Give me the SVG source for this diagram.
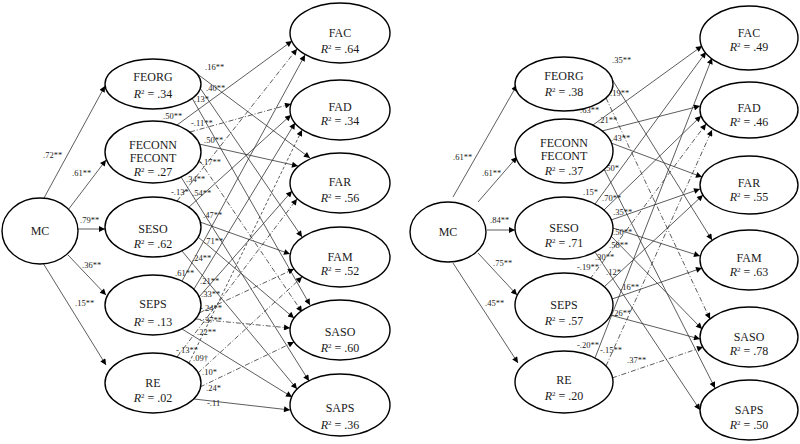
<svg xmlns="http://www.w3.org/2000/svg" width="800" height="444" viewBox="0 0 800 444">
<style>
.n ellipse{fill:#fff;stroke:#000;stroke-width:1.4}
.n text{font-family:"Liberation Serif","Times New Roman",serif;font-size:12px;fill:#1a1a1a;text-anchor:middle}
.n .r{font-style:italic}
.e line{stroke:#333;stroke-width:0.8;fill:none;marker-end:url(#ah)}
.e .dd{stroke-dasharray:5,2,1,2}
.e .ds{stroke-dasharray:3,2}
.lb text{font-family:"Liberation Serif","Times New Roman",serif;font-size:8.5px;fill:#222}
</style>
<defs>
<marker id="ah" viewBox="0 0 10 10" refX="10" refY="5" markerWidth="8" markerHeight="6" markerUnits="userSpaceOnUse" orient="auto"><path d="M0,0 L10,5 L0,10 z" fill="#000"/></marker>
</defs>
<rect width="800" height="444" fill="#fff"/>

<g id="connectors" class="e">
<!-- left panel -->
<line x1="44" y1="198" x2="105" y2="86"/>
<line x1="68" y1="210" x2="106" y2="160"/>
<line x1="78" y1="229" x2="105" y2="229"/>
<line x1="68" y1="255" x2="106" y2="295"/>
<line x1="43" y1="263" x2="106" y2="365"/>
<line x1="196" y1="73" x2="310" y2="158"/>
<line x1="200" y1="88" x2="302" y2="237"/>
<line x1="192" y1="98" x2="310" y2="305"/>
<line x1="177" y1="125" x2="292" y2="41"/>
<line class="dd" x1="190" y1="132" x2="291" y2="104"/>
<line x1="199" y1="144" x2="298" y2="166"/>
<line class="dd" x1="199" y1="160" x2="302" y2="312"/>
<line x1="181" y1="177" x2="309" y2="381"/>
<line class="dd" x1="177" y1="201" x2="297" y2="49"/>
<line x1="189" y1="207" x2="291" y2="115"/>
<line x1="200" y1="222" x2="290" y2="254"/>
<line x1="198" y1="237" x2="294" y2="318"/>
<line x1="182" y1="251" x2="297" y2="389"/>
<line x1="182" y1="281" x2="305" y2="55"/>
<line x1="194" y1="289" x2="295" y2="123"/>
<line x1="199" y1="297" x2="292" y2="191"/>
<line class="dd" x1="199" y1="313" x2="294" y2="269"/>
<line class="dd" x1="196" y1="319" x2="290" y2="328"/>
<line x1="182" y1="329" x2="292" y2="397"/>
<line class="dd" x1="177" y1="357" x2="297" y2="199"/>
<line class="ds" x1="189" y1="363" x2="302" y2="130"/>
<line class="dd" x1="198" y1="373" x2="302" y2="277"/>
<line class="dd" x1="200" y1="387" x2="294" y2="342"/>
<line x1="194" y1="399" x2="290" y2="410"/>
<!-- right panel -->
<line x1="453" y1="197" x2="517" y2="85"/>
<line x1="478" y1="202" x2="517" y2="157"/>
<line x1="487" y1="230" x2="515" y2="230"/>
<line x1="478" y1="253" x2="517" y2="295"/>
<line x1="453" y1="263" x2="518" y2="363"/>
<line x1="610" y1="76" x2="712" y2="240"/>
<line class="dd" x1="606" y1="98" x2="710" y2="319"/>
<line x1="593" y1="125" x2="702" y2="46"/>
<line x1="602" y1="131" x2="700" y2="106"/>
<line x1="611" y1="143" x2="702" y2="177"/>
<line x1="604" y1="169" x2="715" y2="388"/>
<line x1="595" y1="204" x2="706" y2="52"/>
<line x1="604" y1="210" x2="701" y2="116"/>
<line x1="611" y1="220" x2="700" y2="189"/>
<line x1="613" y1="228" x2="700" y2="256"/>
<line x1="611" y1="236" x2="702" y2="329"/>
<line x1="595" y1="252" x2="700" y2="410"/>
<line class="dd" x1="590" y1="279" x2="706" y2="124"/>
<line x1="604" y1="287" x2="703" y2="195"/>
<line x1="612" y1="299" x2="702" y2="268"/>
<line x1="610" y1="315" x2="700" y2="339"/>
<line x1="595" y1="358" x2="712" y2="58"/>
<line class="dd" x1="606" y1="366" x2="712" y2="130"/>
<line class="dd" x1="612" y1="378" x2="703" y2="347"/>
</g>

<g id="labels" class="lb">
<text x="43" y="158">.72**</text>
<text x="72" y="176">.61**</text>
<text x="80" y="223">.79**</text>
<text x="82" y="268">.36**</text>
<text x="75" y="306">.15**</text>
<text x="205" y="70">.16**</text>
<text x="206" y="91">.40**</text>
<text x="194" y="102">.13*</text>
<text x="163" y="119">.50**</text>
<text x="191" y="126">-.11**</text>
<text x="204" y="143">.50**</text>
<text x="199" y="165">-.17**</text>
<text x="186" y="182">.34**</text>
<text x="171" y="195">-.13*</text>
<text x="192" y="196">.54**</text>
<text x="203" y="218">.47**</text>
<text x="204" y="244">.71**</text>
<text x="192" y="261">.24**</text>
<text x="175" y="276">.61**</text>
<text x="200" y="284">.21**</text>
<text x="201" y="297">.33**</text>
<text x="200" y="311">-.24**</text>
<text x="200" y="323">-.37**</text>
<text x="197" y="335">.22**</text>
<text x="176" y="353">-.13**</text>
<text x="193" y="361">.09†</text>
<text x="202" y="375">.10*</text>
<text x="206" y="391">.24*</text>
<text x="207" y="406">-.11</text>
<text x="453" y="160">.61**</text>
<text x="482" y="176">.61**</text>
<text x="490" y="223">.84**</text>
<text x="493" y="266">.75**</text>
<text x="485" y="306">.45**</text>
<text x="612" y="63">.35**</text>
<text x="610" y="96">.19**</text>
<text x="580" y="113">.63**</text>
<text x="598" y="123">.21**</text>
<text x="611" y="141">.43**</text>
<text x="604" y="171">.50*</text>
<text x="583" y="195">.15*</text>
<text x="602" y="201">.70**</text>
<text x="613" y="215">.35**</text>
<text x="613" y="235">.50**</text>
<text x="609" y="248">.58**</text>
<text x="595" y="260">.30**</text>
<text x="577" y="270">-.19**</text>
<text x="606" y="275">.12*</text>
<text x="620" y="290">.16**</text>
<text x="612" y="316">.26**</text>
<text x="577" y="348">-.20**</text>
<text x="600" y="353">-.15**</text>
<text x="627" y="363">.37**</text>
</g>

<!-- left panel nodes -->
<g id="L-MC" class="n"><ellipse cx="40" cy="231" rx="38" ry="33"/><text x="40" y="235">MC</text></g>
<g id="L-FEORG" class="n"><ellipse cx="153" cy="84" rx="48" ry="25"/><text x="153" y="81">FEORG</text><text x="153" y="98"><tspan class="r">R</tspan><tspan font-size="7" dy="-4">2</tspan><tspan dy="4"> = .34</tspan></text></g>
<g id="L-FECONN" class="n"><ellipse cx="153" cy="152" rx="48" ry="31"/><text x="153" y="149">FECONN</text><text x="153" y="162">FECONT</text><text x="153" y="176"><tspan class="r">R</tspan><tspan font-size="7" dy="-4">2</tspan><tspan dy="4"> = .27</tspan></text></g>
<g id="L-SESO" class="n"><ellipse cx="153" cy="227" rx="48" ry="30"/><text x="153" y="233">SESO</text><text x="153" y="248"><tspan class="r">R</tspan><tspan font-size="7" dy="-4">2</tspan><tspan dy="4"> = .62</tspan></text></g>
<g id="L-SEPS" class="n"><ellipse cx="153" cy="305" rx="48" ry="30"/><text x="153" y="308">SEPS</text><text x="153" y="326"><tspan class="r">R</tspan><tspan font-size="7" dy="-4">2</tspan><tspan dy="4"> = .13</tspan></text></g>
<g id="L-RE" class="n"><ellipse cx="153" cy="383" rx="48" ry="30"/><text x="153" y="387">RE</text><text x="153" y="402"><tspan class="r">R</tspan><tspan font-size="7" dy="-4">2</tspan><tspan dy="4"> = .02</tspan></text></g>
<g id="L-FAC" class="n"><ellipse cx="340" cy="33" rx="50" ry="30"/><text x="340" y="37">FAC</text><text x="340" y="53"><tspan class="r">R</tspan><tspan font-size="7" dy="-4">2</tspan><tspan dy="4"> = .64</tspan></text></g>
<g id="L-FAD" class="n"><ellipse cx="340" cy="110" rx="50" ry="30"/><text x="340" y="111">FAD</text><text x="340" y="125"><tspan class="r">R</tspan><tspan font-size="7" dy="-4">2</tspan><tspan dy="4"> = .34</tspan></text></g>
<g id="L-FAR" class="n"><ellipse cx="340" cy="183" rx="50" ry="30"/><text x="340" y="186">FAR</text><text x="340" y="202"><tspan class="r">R</tspan><tspan font-size="7" dy="-4">2</tspan><tspan dy="4"> = .56</tspan></text></g>
<g id="L-FAM" class="n"><ellipse cx="340" cy="257" rx="50" ry="30"/><text x="340" y="261">FAM</text><text x="340" y="275"><tspan class="r">R</tspan><tspan font-size="7" dy="-4">2</tspan><tspan dy="4"> = .52</tspan></text></g>
<g id="L-SASO" class="n"><ellipse cx="340" cy="330" rx="50" ry="30"/><text x="340" y="336">SASO</text><text x="340" y="352"><tspan class="r">R</tspan><tspan font-size="7" dy="-4">2</tspan><tspan dy="4"> = .60</tspan></text></g>
<g id="L-SAPS" class="n"><ellipse cx="340" cy="405" rx="50" ry="31"/><text x="340" y="412">SAPS</text><text x="340" y="429"><tspan class="r">R</tspan><tspan font-size="7" dy="-4">2</tspan><tspan dy="4"> = .36</tspan></text></g>

<!-- right panel nodes -->
<g id="R-MC" class="n"><ellipse cx="448" cy="232" rx="38" ry="30"/><text x="448" y="236">MC</text></g>
<g id="R-FEORG" class="n"><ellipse cx="564" cy="84" rx="49" ry="27"/><text x="564" y="80">FEORG</text><text x="564" y="96"><tspan class="r">R</tspan><tspan font-size="7" dy="-4">2</tspan><tspan dy="4"> = .38</tspan></text></g>
<g id="R-FECONN" class="n"><ellipse cx="564" cy="151" rx="49" ry="32"/><text x="564" y="147">FECONN</text><text x="564" y="160">FECONT</text><text x="564" y="175"><tspan class="r">R</tspan><tspan font-size="7" dy="-4">2</tspan><tspan dy="4"> = .37</tspan></text></g>
<g id="R-SESO" class="n"><ellipse cx="564" cy="228" rx="49" ry="31"/><text x="564" y="232">SESO</text><text x="564" y="247"><tspan class="r">R</tspan><tspan font-size="7" dy="-4">2</tspan><tspan dy="4"> = .71</tspan></text></g>
<g id="R-SEPS" class="n"><ellipse cx="564" cy="305" rx="49" ry="32"/><text x="564" y="309">SEPS</text><text x="564" y="325"><tspan class="r">R</tspan><tspan font-size="7" dy="-4">2</tspan><tspan dy="4"> = .57</tspan></text></g>
<g id="R-RE" class="n"><ellipse cx="564" cy="382" rx="49" ry="31"/><text x="564" y="384">RE</text><text x="564" y="400"><tspan class="r">R</tspan><tspan font-size="7" dy="-4">2</tspan><tspan dy="4"> = .20</tspan></text></g>
<g id="R-FAC" class="n"><ellipse cx="749" cy="38" rx="49" ry="32"/><text x="749" y="37">FAC</text><text x="749" y="51"><tspan class="r">R</tspan><tspan font-size="7" dy="-4">2</tspan><tspan dy="4"> = .49</tspan></text></g>
<g id="R-FAD" class="n"><ellipse cx="749" cy="110" rx="49" ry="28"/><text x="749" y="112">FAD</text><text x="749" y="126"><tspan class="r">R</tspan><tspan font-size="7" dy="-4">2</tspan><tspan dy="4"> = .46</tspan></text></g>
<g id="R-FAR" class="n"><ellipse cx="749" cy="185" rx="49" ry="29"/><text x="749" y="187">FAR</text><text x="749" y="201"><tspan class="r">R</tspan><tspan font-size="7" dy="-4">2</tspan><tspan dy="4"> = .55</tspan></text></g>
<g id="R-FAM" class="n"><ellipse cx="749" cy="260" rx="49" ry="30"/><text x="749" y="262">FAM</text><text x="749" y="276"><tspan class="r">R</tspan><tspan font-size="7" dy="-4">2</tspan><tspan dy="4"> = .63</tspan></text></g>
<g id="R-SASO" class="n"><ellipse cx="749" cy="337" rx="49" ry="30"/><text x="749" y="341">SASO</text><text x="749" y="355"><tspan class="r">R</tspan><tspan font-size="7" dy="-4">2</tspan><tspan dy="4"> = .78</tspan></text></g>
<g id="R-SAPS" class="n"><ellipse cx="749" cy="410" rx="49" ry="30"/><text x="749" y="414">SAPS</text><text x="749" y="429"><tspan class="r">R</tspan><tspan font-size="7" dy="-4">2</tspan><tspan dy="4"> = .50</tspan></text></g>
</svg>
